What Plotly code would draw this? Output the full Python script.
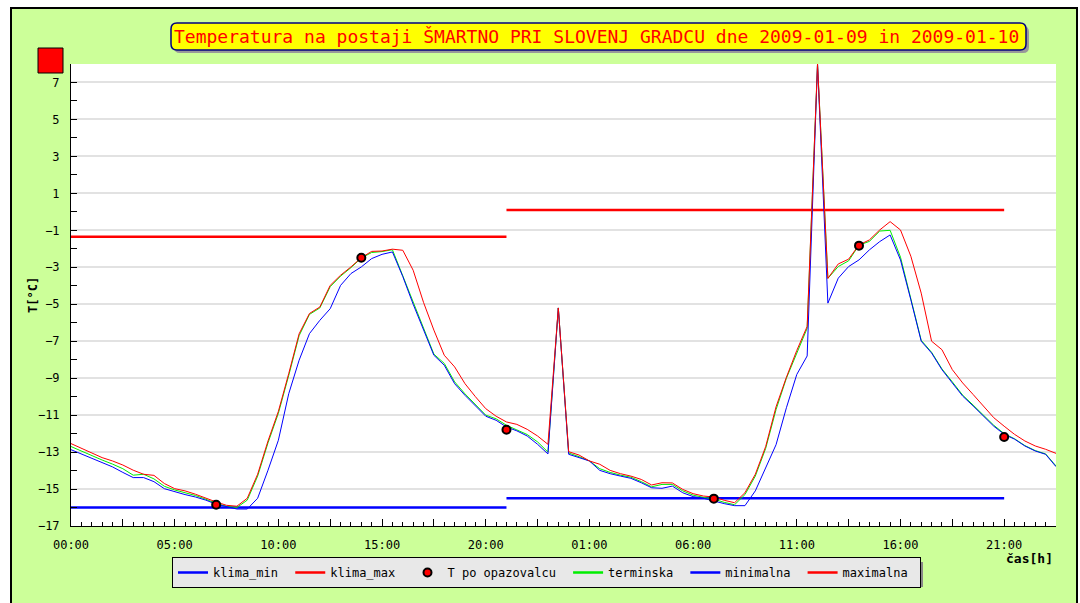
import numpy as np
import plotly.graph_objects as go

# ---------------- data ----------------
hours = np.arange(0, 48, 0.5)  # 2009-01-09 00:00 .. 2009-01-10 23:30

maximalna = [
    -12.54, -12.80, -13.08, -13.30, -13.48, -13.70, -13.98, -14.20, -14.26, -14.70,
    -14.98, -15.10, -15.28, -15.50, -15.70, -15.88, -15.93, -15.50, -14.20, -12.40,
    -10.80, -8.75, -6.60, -5.50, -5.15, -3.98, -3.43, -2.98, -2.48, -2.14,
    -2.12, -2.02, -2.08, -3.16, -4.90, -6.40, -7.76, -8.39, -9.30, -10.00,
    -10.65, -11.06, -11.37, -11.50, -11.77, -12.13, -12.58, -5.20, -12.98, -13.16,
    -13.48, -13.66, -13.99, -14.17, -14.30, -14.48, -14.78, -14.66, -14.67, -15.02,
    -15.25, -15.38, -15.43, -15.61, -15.74, -15.20, -14.20, -12.70, -10.55, -8.95,
    -7.50, -6.20, 8.00, -3.60, -2.82, -2.56, -1.79, -1.52, -0.98, -0.53,
    -0.98, -2.40, -4.40, -7.00, -7.46, -8.54, -9.26, -9.88, -10.50, -11.14,
    -11.60, -12.04, -12.40, -12.67, -12.85, -13.07,
]

minimalna = [
    -12.87, -13.10, -13.30, -13.55, -13.80, -14.10, -14.38, -14.38, -14.60, -14.98,
    -15.16, -15.30, -15.43, -15.60, -15.82, -15.97, -16.08, -16.08, -15.50, -13.98,
    -12.36, -9.84, -8.03, -6.59, -5.87, -5.24, -3.98, -3.34, -2.98, -2.53,
    -2.30, -2.17, -3.50, -5.00, -6.40, -7.76, -8.30, -9.30, -9.93, -10.47,
    -11.06, -11.28, -11.64, -11.85, -12.13, -12.58, -13.10, -5.20, -13.12, -13.30,
    -13.48, -13.99, -14.17, -14.30, -14.42, -14.66, -14.93, -14.96, -14.84, -15.20,
    -15.41, -15.50, -15.65, -15.79, -15.90, -15.90, -15.10, -13.84, -12.60, -10.60,
    -8.80, -7.80, 8.00, -4.94, -3.59, -2.96, -2.60, -2.06, -1.61, -1.25,
    -2.60, -4.76, -7.00, -7.64, -8.54, -9.26, -9.97, -10.50, -11.05, -11.60,
    -12.04, -12.30, -12.67, -12.94, -13.12, -13.79,
]

terminska = [
    -12.70, -12.95, -13.20, -13.43, -13.65, -13.90, -14.25, -14.20, -14.45, -14.85,
    -15.05, -15.20, -15.35, -15.55, -15.78, -15.93, -16.00, -15.60, -14.30, -12.50,
    -10.90, -8.85, -6.70, -5.55, -5.20, -4.05, -3.48, -3.02, -2.50, -2.20,
    -2.15, -2.05, -3.45, -4.95, -6.35, -7.70, -8.20, -9.20, -9.85, -10.40,
    -11.00, -11.20, -11.55, -11.80, -12.05, -12.45, -13.00, -5.20, -13.05, -13.25,
    -13.48, -13.90, -14.10, -14.25, -14.36, -14.60, -14.88, -14.75, -14.75, -15.10,
    -15.33, -15.45, -15.55, -15.72, -15.85, -15.30, -14.30, -12.80, -10.70, -9.00,
    -7.60, -6.30, 8.00, -3.60, -2.96, -2.65, -1.80, -1.60, -1.04, -1.00,
    -2.45, -4.75, -6.95, -7.60, -8.50, -9.20, -9.92, -10.45, -11.00, -11.55,
    -12.00, -12.28, -12.65, -12.92, -13.10, -13.75,
]

# observer readings at 07, 14, 21 h on each day
obs_hours = [7, 14, 21, 31, 38, 45]
obs_temp = [-15.85, -2.48, -11.79, -15.52, -1.83, -12.18]

# climatological min / max per day (day1: 00-21h, day2: 21-45h)
klima_hours = [0, 21, None, 21, 45]
klima_min = [-16.0, -16.0, None, -15.5, -15.5]
klima_max = [-1.35, -1.35, None, 0.1, 0.1]

x_tick_hours = [0, 2.5, 5, 7.5, 10, 12.5, 15, 17.5, 20, 22.5, 25, 27.5, 30, 32.5, 35, 37.5, 40, 42.5, 45, 47.5]
x_tick_labels = ["00:00", "", "05:00", "", "10:00", "", "15:00", "", "20:00", "",
                 "01:00", "", "06:00", "", "11:00", "", "16:00", "", "21:00", ""]
y_tick_values = [-17, -15, -13, -11, -9, -7, -5, -3, -1, 1, 3, 5, 7]

title_text = "Temperatura na postaji ŠMARTNO PRI SLOVENJ GRADCU dne 2009-01-09 in 2009-01-10"

# ---------------- layout helpers ----------------
W_FIG, H_FIG = 1080, 603
L, R, T, B = 71, 1056, 64, 526
PW, PH = R - L, B - T


def px(x):
    return (x - L) / PW


def py(y):
    return (B - y) / PH


MONO = "DejaVu Sans Mono"
NB = "\u00a0"

BLUE, RED, GREEN = "#0000ff", "#ff0000", "#00ee00"

fig = go.Figure()

fig.add_trace(go.Scatter(x=klima_hours, y=klima_min, mode="lines", name="klima_min" + NB,
                         line=dict(color=BLUE, width=2.5), connectgaps=False, legendrank=1))
fig.add_trace(go.Scatter(x=klima_hours, y=klima_max, mode="lines", name="klima_max" + NB,
                         line=dict(color=RED, width=2.5), connectgaps=False, legendrank=2))
fig.add_trace(go.Scatter(x=hours, y=terminska, mode="lines", name="terminska",
                         line=dict(color=GREEN, width=1), showlegend=False))
fig.add_trace(go.Scatter(x=hours, y=minimalna, mode="lines", name="minimalna",
                         line=dict(color=BLUE, width=1), showlegend=False))
fig.add_trace(go.Scatter(x=hours, y=maximalna, mode="lines", name="maximalna",
                         line=dict(color=RED, width=1), showlegend=False))
fig.add_trace(go.Scatter(x=obs_hours, y=obs_temp, mode="markers", name="T po opazovalcu" + NB,
                         marker=dict(color=RED, size=8, line=dict(color="black", width=2)),
                         legendrank=3))
for nm, col, rk in [("terminska", GREEN, 4), ("minimalna", BLUE, 5), ("maximalna", RED, 6)]:
    fig.add_trace(go.Scatter(x=[None], y=[None], mode="lines", name=nm + NB,
                             line=dict(color=col, width=2.5), legendrank=rk))

shapes = []
shapes.append(dict(type="rect", xref="paper", yref="paper", layer="below",
                   x0=px(-5), x1=px(1090), y0=py(-5), y1=py(620),
                   fillcolor="white", line=dict(width=0)))
shapes.append(dict(type="rect", xref="paper", yref="paper", layer="below",
                   x0=px(11), x1=px(1077), y0=py(8), y1=py(640),
                   fillcolor="#ccff99", line=dict(color="black", width=2)))
shapes.append(dict(type="rect", xref="paper", yref="paper", layer="below",
                   x0=0, x1=1, y0=0, y1=1,
                   fillcolor="white", line=dict(width=0)))
shapes.append(dict(type="rect", xref="paper", yref="paper", layer="above",
                   x0=px(38), x1=px(63), y0=py(73), y1=py(48),
                   fillcolor=RED, line=dict(color="black", width=1)))


def rounded_path(x0, y0, x1, y1, r):
    X = lambda v: f"{px(v):.5f}"
    Y = lambda v: f"{py(v):.5f}"
    return (f"M {X(x0 + r)},{Y(y0)} L {X(x1 - r)},{Y(y0)} Q {X(x1)},{Y(y0)} {X(x1)},{Y(y0 + r)} "
            f"L {X(x1)},{Y(y1 - r)} Q {X(x1)},{Y(y1)} {X(x1 - r)},{Y(y1)} "
            f"L {X(x0 + r)},{Y(y1)} Q {X(x0)},{Y(y1)} {X(x0)},{Y(y1 - r)} "
            f"L {X(x0)},{Y(y0 + r)} Q {X(x0)},{Y(y0)} {X(x0 + r)},{Y(y0)} Z")


shapes.append(dict(type="path", xref="paper", yref="paper", layer="below",
                   path=rounded_path(174, 26, 1029, 53, 6),
                   fillcolor="#999999", line=dict(width=0)))
shapes.append(dict(type="path", xref="paper", yref="paper", layer="below",
                   path=rounded_path(171, 23, 1026, 50, 6),
                   fillcolor="#ffff00", line=dict(color="#000080", width=1.5)))
shapes.append(dict(type="rect", xref="paper", yref="paper", layer="below",
                   x0=px(177), x1=px(923), y0=py(587), y1=py(562),
                   fillcolor="#888888", line=dict(width=0)))

annotations = [
    dict(text=title_text, xref="paper", yref="paper", x=px(596), y=py(37),
         xanchor="center", yanchor="middle", showarrow=False,
         font=dict(family=MONO, size=18, color=RED)),
    dict(text="<b>čas[h]</b>", xref="paper", yref="paper", x=px(1055), y=py(558),
         xanchor="right", yanchor="middle", showarrow=False,
         font=dict(family=MONO, size=13, color="black")),
    dict(text="<b>T[°C]</b>", xref="paper", yref="paper", x=px(33), y=py(295),
         xanchor="center", yanchor="middle", showarrow=False, textangle=-90,
         font=dict(family=MONO, size=12, color="black")),
]

fig.update_layout(
    width=W_FIG, height=H_FIG,
    margin=dict(l=L, r=W_FIG - R, t=T, b=H_FIG - B, pad=0),
    paper_bgcolor="#ccff99",
    plot_bgcolor="white",
    shapes=shapes,
    annotations=annotations,
    showlegend=True,
    legend=dict(orientation="h", x=px(172), y=py(557), xanchor="left", yanchor="top",
                bgcolor="#e8e8e8", bordercolor="black", borderwidth=1,
                font=dict(family=MONO, size=12, color="black"),
                itemwidth=30, traceorder="normal"),
    font=dict(family=MONO, size=12, color="black"),
)

fig.update_xaxes(
    range=[0, 47.5], tickmode="array", tickvals=x_tick_hours, ticktext=x_tick_labels,
    ticks="inside", ticklen=7, tickcolor="black", tickwidth=1,
    showline=True, linecolor="black", linewidth=1, mirror=False,
    showgrid=False, zeroline=False, ticklabelstandoff=8,
    tickfont=dict(family=MONO, size=12, color="black"),
    minor=dict(tickmode="linear", tick0=0, dtick=0.5, ticks="inside", ticklen=4,
               tickcolor="black", showgrid=False),
)
fig.update_yaxes(
    range=[-17, 8], tickmode="array", tickvals=y_tick_values,
    ticks="inside", ticklen=6, tickcolor="black", tickwidth=1,
    showline=True, linecolor="black", linewidth=1, mirror=False,
    showgrid=True, gridcolor="#e2e2e2", gridwidth=2, zeroline=False,
    ticklabelstandoff=8,
    tickfont=dict(family=MONO, size=12, color="black"),
    minor=dict(tickmode="linear", tick0=-17, dtick=1, ticks="inside", ticklen=6,
               tickcolor="black", showgrid=False),
)

fig.write_html("out.html")
